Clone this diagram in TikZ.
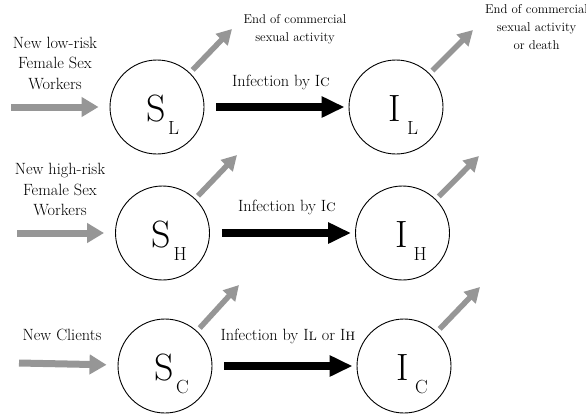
\documentclass[tikz,border=0pt]{standalone}
\usepackage{fontspec}
\usetikzlibrary{arrows.meta,calc}
\definecolor{arrgray}{RGB}{150,150,150}
\newcommand\compartment[4]{%
  \node[state] (#1) at #2 {};
  \node[bigletter] (#1let) at ($(#1)+(-1,14)$) {#3};
  \node[subletter] (#1sub) at ($(#1)+(11,27)$) {#4};
}
\begin{document}
\begin{tikzpicture}[x=1pt,y=-1pt,
  state/.style={circle,draw,line width=0.9pt,minimum size=94pt,inner sep=0pt},
  bigletter/.style={font=\fontsize{38}{38}\selectfont,inner sep=0pt,anchor=base},
  subletter/.style={font=\fontsize{19}{19}\selectfont,inner sep=0pt,anchor=base west},
  lab/.style={font=\fontsize{16.3}{20.5}\selectfont,align=center,inner sep=0pt},
  smalllab/.style={font=\fontsize{12.8}{18}\selectfont,align=center,inner sep=0pt},
  inflow/.style={draw=arrgray,line width=7pt,-{Triangle[length=17pt,width=19pt]}},
  outflow/.style={draw=arrgray,line width=5.5pt,-{Triangle[length=15pt,width=16pt]},shorten <=4pt},
  infect/.style={draw=black,line width=8pt,-{Triangle[length=23pt,width=20pt]}}
]
\useasboundingbox (0,0) rectangle (586,413);

% compartments
\compartment{SL}{(157,107)}{S}{L}
\compartment{IL}{(396,107)}{I}{L}
\compartment{SH}{(162.5,233)}{S}{H}
\compartment{IH}{(402.5,233)}{I}{H}
\compartment{SC}{(165,366)}{S}{C}
\compartment{IC}{(404,366)}{I}{C}

% labels (base anchor = baseline of last line)
\node[lab,anchor=base] (newL) at (55,89) {New low-risk\\Female Sex\\Workers};
\node[lab,anchor=base] (newH) at (60,215.5) {New high-risk\\Female Sex\\Workers};
\node[lab,anchor=base] (newC) at (62,340) {New Clients};
\node[lab,anchor=base] (infL) at (281,86.5) {Infection by I\textsc{c}};
\node[lab,anchor=base] (infH) at (287,211) {Infection by I\textsc{c}};
\node[lab,anchor=base] (infC) at (288,340) {Infection by I\textsc{l} or I\textsc{h}};
\node[smalllab,anchor=base] (endS) at (295,41) {End of commercial\\sexual activity};
\node[smalllab,anchor=base] (endI) at (536.5,49.5) {End of commercial\\sexual activity\\or death};

% free ends
\coordinate (inL) at (11,107);
\coordinate (inH) at (17,233);
\coordinate (inC) at (19,363);
\coordinate (oSL) at (232,29);
\coordinate (oIL) at (473,30);
\coordinate (oSH) at (237,155);
\coordinate (oIH) at (479,156);
\coordinate (oSC) at (239,285);
\coordinate (oIC) at (480,287);

% inflows
\draw[inflow,shorten >=11pt] (inL) -- (SL);
\draw[inflow,shorten >=11pt] (inH) -- (SH);
\draw[inflow,shorten >=11pt] (inC) -- (SC);

% infections
\draw[infect,shorten <=12pt,shorten >=4pt] (SL) -- (IL);
\draw[infect,shorten <=12pt,shorten >=4pt] (SH) -- (IH);
\draw[infect,shorten <=12pt,shorten >=4pt] (SC) -- (IC);

% outflows
\draw[outflow] (SL) -- (oSL);
\draw[outflow] (IL) -- (oIL);
\draw[outflow] (SH) -- (oSH);
\draw[outflow] (IH) -- (oIH);
\draw[outflow] (SC) -- (oSC);
\draw[outflow] (IC) -- (oIC);
\end{tikzpicture}
\end{document}
